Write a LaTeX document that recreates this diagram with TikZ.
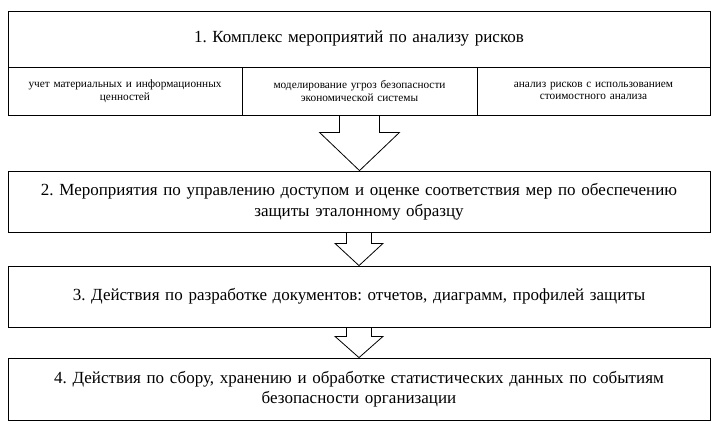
\documentclass[tikz,border=0pt]{standalone}
\usepackage{fontspec}
\setmainfont{Liberation Serif}
\usetikzlibrary{calc}

\tikzset{
  etap/.style={draw, line width=0.8pt, minimum width=702pt, minimum height=#1,
    text width=690pt, align=center, inner sep=0pt, font=\fontsize{17}{20.5}\selectfont},
  podetap/.style={draw, line width=0.8pt, minimum width=#1, minimum height=48pt,
    text width=225pt, align=center, inner sep=0pt, font=\fontsize{11.3}{12.5}\selectfont},
}

% block arrow from one node to the next: stem half, head half, shoulder
\newcommand{\strelka}[5]{%
  \draw[line width=0.8pt, line join=miter] let \p1=(#1.south), \p2=(#2.north) in
    (\x1-#3pt,\y1) -- (\x1-#3pt,\y1-#5pt) -- (\x1-#4pt,\y1-#5pt) -- (\x1,\y2)
    -- (\x1+#4pt,\y1-#5pt) -- (\x1+#3pt,\y1-#5pt) -- (\x1+#3pt,\y1);}

\begin{document}
\frenchspacing
\begin{tikzpicture}[x=1pt, y=-1pt]
  \useasboundingbox (0,0) rectangle (715,426);
  \def\cx{359}  % centre of the stages

  % Stage 1 with its three parts
  \node[etap=56pt] (kompleks) at (\cx,39) {1. Комплекс мероприятий по анализу рисков};
  \node[podetap=234pt] (uchet) at (125,91) {учет материальных и информационных\\ценностей};
  \node[podetap=235pt] (ugrozy) at (359.5,91) {моделирование угроз безопасности\\экономической системы};
  \node[podetap=233pt] (riski) at (593.5,91) {анализ рисков с использованием\\стоимостного анализа};

  % Stages 2--4
  \node[etap=61pt] (upravl) at (\cx,201.5) {2. Мероприятия по управлению доступом и оценке соответствия мер по обеспечению\\защиты эталонному образцу};
  \node[etap=61pt] (docs) at (\cx,296.5) {3. Действия по разработке документов: отчетов, диаграмм, профилей защиты};
  \node[etap=62pt] (stat) at (\cx,389) {4. Действия по сбору, хранению и обработке статистических данных по событиям\\безопасности организации};

  % Arrows
  \strelka{ugrozy}{upravl}{20}{40}{17}
  \strelka{upravl}{docs}{12.5}{24}{11}
  \strelka{docs}{stat}{12.5}{24}{9}
\end{tikzpicture}
\end{document}
